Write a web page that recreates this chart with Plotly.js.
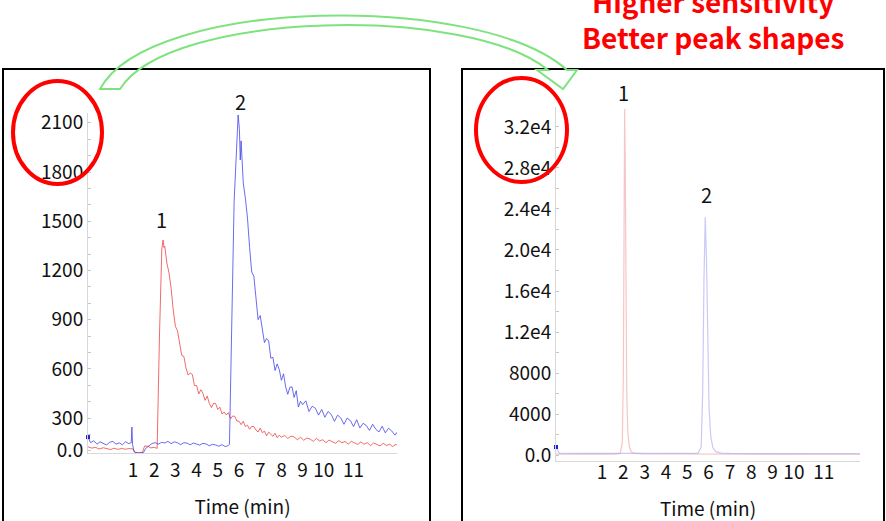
<!DOCTYPE html>
<html>
<head>
<meta charset="utf-8">
<script src="https://cdn.plot.ly/plotly-3.0.1.min.js"></script>
<style>html,body{margin:0;padding:0;background:#fff;}#chart{width:886px;height:521px;}</style>
</head>
<body>
<div id="chart"></div>
<script>
// ---------- DATA ----------
// Left panel (before): red = compound 1, blue = compound 2, time in minutes
const redLeftTime = [-1.12,-0.95,-0.75,-0.6,-0.4,-0.25,-0.05,0.1,0.3,0.45,0.65,0.8,0.95,1.0,1.1,1.3,1.45,1.55,1.7,1.85,2.0,2.1,2.14,2.25,2.36,2.42,2.46,
  2.5,2.6,2.7,2.8,2.9,3.0,3.1,3.2,3.3,3.4,3.5,3.6,3.7,3.8,3.9,4.0,4.1,4.2,4.3,4.4,4.5,4.6,4.7,4.8,4.9,
  5.0,5.1,5.2,5.3,5.4,5.5,5.6,5.7,5.8,5.9,6.0,6.1,6.2,6.3,6.4,6.5,6.6,6.7,6.8,6.9,7.0,7.1,7.2,7.3,7.4,7.5,7.6,7.7,7.8,7.9,8.0,
  8.15,8.3,8.45,8.6,8.75,8.9,9.05,9.2,9.35,9.5,9.65,9.8,9.95,10.1,10.25,10.4,10.55,10.7,10.85,11.0,11.15,11.3,11.45,11.6,11.75,11.9,
  12.05,12.2,12.35,12.5,12.65,12.8,12.95,13.1,13.25,13.4,13.45];
const redLeftValue = [125,117,121,111,119,113,108,116,109,115,110,114,112,112,90,88,92,130,128,118,122,115,115,800,1330,1386,1340,
  1348,1245,1185,1090,958,860,832,758,682,676,606,563,574,566,498,499,447,473,450,408,434,390,364,390,388,
  352,366,325,337,319,333,296,312,311,282,281,260,281,248,257,232,249,248,227,215,239,211,220,192,214,202,189,207,180,196,183,
  194,176,190,185,168,183,165,178,172,158,176,160,168,150,166,158,146,162,150,157,141,158,146,139,155,140,
  150,132,148,140,130,146,133,140,126,141,132];

const blueLeftTime = [-1.12,-1.0,-0.85,-0.7,-0.55,-0.4,-0.25,-0.1,0.05,0.2,0.35,0.5,0.65,0.8,0.92,0.95,0.98,1.05,1.2,1.35,1.5,1.6,1.75,1.9,2.05,
  2.2,2.35,2.5,2.65,2.8,2.95,3.1,3.25,3.4,3.55,3.7,3.85,4.0,4.15,4.3,4.45,4.6,4.75,4.9,5.05,5.2,5.35,5.5,5.55,5.77,5.96,6.02,6.06,
  6.1,6.2,6.3,6.4,6.5,6.6,6.7,6.8,6.9,7.0,7.1,7.2,7.3,7.4,7.5,7.6,7.7,7.8,7.9,8.0,8.1,8.2,8.3,8.4,8.5,8.6,8.7,8.8,8.9,9.0,
  9.15,9.3,9.45,9.6,9.75,9.9,10.05,10.2,10.35,10.5,10.65,10.8,10.95,11.1,11.25,11.4,11.55,11.7,11.85,12.0,12.15,12.3,12.45,12.6,12.75,12.9,
  13.05,13.2,13.35,13.45];
const blueLeftValue = [184,150,162,141,155,147,136,152,158,141,149,137,156,144,150,245,140,95,87,88,90,115,130,145,150,
  141,152,148,158,144,155,149,138,150,147,137,148,143,135,146,142,131,140,136,128,138,126,133,140,1620,2148,2060,1874,
  1990,1735,1640,1520,1340,1190,1165,1025,900,925,825,760,785,770,665,670,590,630,595,530,570,490,445,488,490,426,467,367,402,382,
  405,340,372,360,318,352,305,340,322,280,318,300,262,300,285,248,290,240,268,255,225,262,232,215,250,210,
  238,222,196,214];

// Right panel (after)
const redRightTime  = [-1.16,0,1.0,1.6,1.85,1.95,2.0,2.03,2.06,2.09,2.12,2.16,2.21,2.28,2.38,2.55,3.0,5.0,8.0,11.0,13.1];
const redRightValue = [90,80,85,90,150,1200,8000,24000,33750,28000,15000,6000,2200,800,300,150,100,90,85,80,80];
const blueRightTime  = [-1.16,-1.0,0,1.0,2.0,3.0,4.0,5.0,5.5,5.65,5.72,5.78,5.84,5.9,5.96,6.02,6.1,6.2,6.35,6.6,7.0,8.0,10.0,13.1];
const blueRightValue = [780,180,150,140,140,160,170,150,160,800,6000,17000,23200,19000,10000,4500,1800,700,300,180,150,140,130,120];

// Tick labels (the "11" label sits a little right of the regular spacing in the picture)
const xTickVals = [1,2,3,4,5,6,7,8,9,10,11.4];
const xTickText = ["1","2","3","4","5","6","7","8","9","10","11"];
const leftYTickVals = [105,300,600,900,1200,1500,1800,2100];
const leftYTickText = ["0.0","300","600","900","1200","1500","1800","2100"];
const rightYTickVals = [0,4000,8000,12000,16000,20000,24000,28000,32000];
const rightYTickText = ["0.0","4000","8000","1.2e4","1.6e4","2.0e4","2.4e4","2.8e4","3.2e4"];
const peakNames = ["1","2"];
const xTitle = "Time (min)";
const headline = "Higher sensitivity<br>Better peak shapes";

// ---------- LAYOUT HELPERS ----------
const W = 886, H = 521;
const px = x => x / W;
const py = y => 1 - y / H;
const pt = (x, y) => px(x).toFixed(5) + "," + py(y).toFixed(5);
const FONT = '"Noto Sans CJK SC", "Noto Sans", sans-serif';

const peakAt = (t, v, lo, hi) => { let b = -1, bi = 0; t.forEach((tt, i) => { if (tt >= lo && tt <= hi && v[i] > b) { b = v[i]; bi = i; } }); return [t[bi], v[bi]]; };

const traces = [
  {x: redLeftTime, y: redLeftValue, mode: 'lines', line: {color: 'rgba(235,70,70,0.8)', width: 1}, xaxis: 'x', yaxis: 'y', hoverinfo: 'skip'},
  {x: blueLeftTime, y: blueLeftValue, mode: 'lines', line: {color: 'rgba(70,70,235,0.8)', width: 1}, xaxis: 'x', yaxis: 'y', hoverinfo: 'skip'},
  {x: [blueLeftTime[0]], y: [blueLeftValue[0]], mode: 'markers', marker: {color: '#2222cc', size: 4, symbol: 'square'}, xaxis: 'x', yaxis: 'y', cliponaxis: false},
  {x: redRightTime, y: redRightValue, mode: 'lines', line: {color: 'rgba(240,140,140,0.5)', width: 1.2}, xaxis: 'x2', yaxis: 'y2', hoverinfo: 'skip'},
  {x: blueRightTime, y: blueRightValue, mode: 'lines', line: {color: 'rgba(150,150,240,0.5)', width: 1.2}, xaxis: 'x2', yaxis: 'y2', hoverinfo: 'skip'},
  {x: [blueRightTime[0]], y: [blueRightValue[0]], mode: 'markers', marker: {color: '#2222cc', size: 4, symbol: 'square'}, xaxis: 'x2', yaxis: 'y2', cliponaxis: false}
];

const xCommon = {
  tickmode: 'array', tickvals: xTickVals, ticktext: xTickText, ticks: '', tickangle: 0, showgrid: false, zeroline: false,
  showline: true, linecolor: '#d8d8d8', linewidth: 1,
  tickfont: {family: FONT, size: 19, color: '#111'},
  automargin: false
};
const yCommon = {
  tickmode: 'array', ticks: '', showgrid: false, zeroline: false,
  showline: true, linecolor: '#d8d8d8', linewidth: 1,
  tickfont: {family: FONT, size: 19, color: '#111'},
  automargin: false
};

const pL1 = peakAt(redLeftTime, redLeftValue, 0, 4);
const pL2 = peakAt(blueLeftTime, blueLeftValue, 5, 8);
const pR1 = peakAt(redRightTime, redRightValue, 0, 4);
const pR2 = peakAt(blueRightTime, blueRightValue, 5, 8);
const lblFont = {family: FONT, size: 20, color: '#111'};

const layout = {
  width: W, height: H,
  margin: {l: 0, r: 0, t: 0, b: 0},
  paper_bgcolor: '#fff', plot_bgcolor: '#fff',
  showlegend: false,
  font: {family: FONT, color: '#111'},
  xaxis: Object.assign({}, xCommon, {domain: [px(88), px(397)], range: [-1.12, 13.45], anchor: 'y',
    title: {text: xTitle, font: {family: FONT, size: 19, color: '#111'}, standoff: 19}}),
  yaxis: Object.assign({}, yCommon, {domain: [py(453), py(113)], range: [87, 2160], tickvals: leftYTickVals, ticktext: leftYTickText, anchor: 'x',
    minor: {ticks: 'inside', ticklen: 3, tickcolor: '#c8c8c8', dtick: 100, tick0: 0}}),
  xaxis2: Object.assign({}, xCommon, {domain: [px(556), px(860)], range: [-1.16, 13.1], anchor: 'y2', ticklabelstandoff: -6,
    title: {text: xTitle, font: {family: FONT, size: 19, color: '#111'}, standoff: 19}}),
  yaxis2: Object.assign({}, yCommon, {domain: [py(461), py(107)], range: [-585, 33950], tickvals: rightYTickVals, ticktext: rightYTickText, anchor: 'x2',
    minor: {ticks: 'inside', ticklen: 3, tickcolor: '#c8c8c8', dtick: 2000, tick0: 0}}),
  annotations: [
    {xref: 'x', yref: 'y', x: pL1[0] - 0.08, y: pL1[1], yanchor: 'bottom', yshift: 4, text: peakNames[0], showarrow: false, font: lblFont},
    {xref: 'x', yref: 'y', x: pL2[0] + 0.1, y: pL2[1], yanchor: 'bottom', yshift: -3, text: peakNames[1], showarrow: false, font: lblFont},
    {xref: 'x2', yref: 'y2', x: pR1[0] - 0.05, y: pR1[1], yanchor: 'bottom', yshift: 0, text: peakNames[0], showarrow: false, font: lblFont},
    {xref: 'x2', yref: 'y2', x: pR2[0] + 0.05, y: pR2[1], yanchor: 'bottom', yshift: 6, text: peakNames[1], showarrow: false, font: lblFont},
    {xref: 'paper', yref: 'paper', x: px(713), y: py(19), xanchor: 'center', yanchor: 'middle', text: headline, showarrow: false,
      font: {family: FONT, size: 28, color: '#ff0000', weight: 'bold'}}
  ],
  shapes: [
    {type: 'rect', xref: 'paper', yref: 'paper', x0: px(3), x1: px(430), y0: py(540), y1: py(69), line: {color: '#000', width: 2}},
    {type: 'rect', xref: 'paper', yref: 'paper', x0: px(462), x1: px(884), y0: py(540), y1: py(69), line: {color: '#000', width: 2}},
    {type: 'path', xref: 'paper', yref: 'paper', line: {color: '#7ee37e', width: 2}, fillcolor: 'rgba(0,0,0,0)',
      path: 'M' + pt(100, 89) + ' C' + pt(150, -3) + ' ' + pt(480, -8) + ' ' + pt(567, 70) +
            ' L' + pt(577, 70) + ' L' + pt(563, 89) + ' L' + pt(537, 70) + ' L' + pt(548, 70) +
            ' C' + pt(470, 5) + ' ' + pt(170, 10) + ' ' + pt(120, 89) + ' Z'},
    {type: 'circle', xref: 'paper', yref: 'paper', x0: px(13), x1: px(102), y0: py(184), y1: py(81), line: {color: '#ff0000', width: 4}},
    {type: 'circle', xref: 'paper', yref: 'paper', x0: px(476), x1: px(567), y0: py(182), y1: py(78), line: {color: '#ff0000', width: 4}}
  ]
};

Plotly.newPlot('chart', traces, layout, {staticPlot: true, displayModeBar: false});
</script>
</body>
</html>
